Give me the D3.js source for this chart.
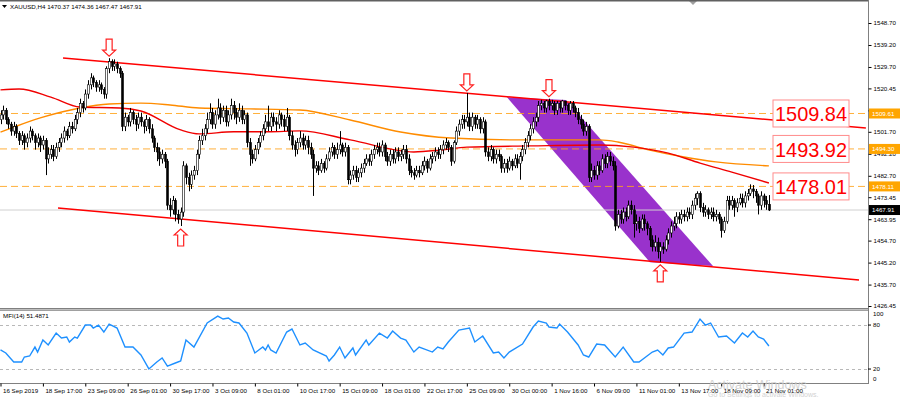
<!DOCTYPE html>
<html>
<head>
<meta charset="utf-8">
<script src="https://cdn.jsdelivr.net/npm/d3@7/dist/d3.min.js"></script>
<style>
    body { margin: 0; background: #ffffff; }
    svg text { font-family: "Liberation Sans", Arial, sans-serif; }
</style>
</head>
<body>
<div id="chart"></div>
<script>
// --- chart data ---

const symbolTitle = "XAUUSD,H4  1470.37 1474.36 1467.47 1467.91";
const firstOpen = 1507;

// H4 candles, one value per bar, 10 bars per row
const closes = [
    1509, 1511, 1507, 1505, 1502, 1504, 1501, 1498, 1500, 1497,
    1499, 1502, 1500, 1497, 1499, 1496, 1498, 1490, 1492, 1494,
    1491, 1495, 1497, 1499, 1502, 1500, 1504, 1503, 1507, 1510,
    1514, 1512, 1518, 1522, 1525, 1523, 1521, 1522, 1520, 1518,
    1529, 1532, 1530, 1531, 1529, 1527, 1504, 1508, 1506, 1510,
    1507, 1505, 1508, 1506, 1504, 1507, 1503, 1499, 1495, 1493,
    1490, 1492, 1489, 1470, 1468, 1472, 1466, 1464, 1467, 1487,
    1482, 1479, 1483, 1485, 1492, 1498, 1500, 1503, 1507, 1510,
    1505, 1509, 1512, 1508, 1511, 1506, 1509, 1513, 1510, 1508,
    1511, 1507, 1509, 1497, 1492, 1490, 1494, 1497, 1500, 1503,
    1506, 1504, 1508, 1506, 1505, 1509, 1507, 1504, 1508, 1500,
    1496, 1494, 1497, 1499, 1496, 1498, 1495, 1492, 1486, 1487,
    1485, 1488, 1486, 1490, 1493, 1495, 1492, 1494, 1496, 1493,
    1495, 1481, 1483, 1485, 1482, 1484, 1486, 1488, 1490, 1489,
    1492, 1494, 1495, 1493, 1496, 1491, 1489, 1492, 1490, 1493,
    1491, 1492, 1494, 1490, 1485, 1484, 1483, 1485, 1484, 1487,
    1489, 1486, 1490, 1491, 1493, 1492, 1494, 1496, 1497, 1495,
    1489, 1497, 1502, 1505, 1507, 1506, 1508, 1504, 1508, 1505,
    1507, 1503, 1506, 1493, 1491, 1494, 1490, 1492, 1491, 1486,
    1488, 1486, 1489, 1487, 1490, 1488, 1491, 1494, 1497, 1500,
    1503, 1506, 1508, 1513, 1514, 1512, 1515, 1513, 1514, 1511,
    1514, 1512, 1515, 1513, 1511, 1514, 1512, 1510, 1507, 1505,
    1502, 1504, 1482, 1485, 1483, 1487, 1485, 1490, 1488, 1491,
    1489, 1487, 1461, 1466, 1464, 1467, 1465, 1470, 1468, 1462,
    1463, 1460, 1464, 1462, 1460, 1455, 1452, 1454, 1450, 1452,
    1451, 1455, 1458, 1461, 1462, 1465, 1464, 1466, 1465, 1467,
    1466, 1470, 1473, 1475, 1469, 1467, 1468, 1466, 1467, 1465,
    1466, 1464, 1459, 1463, 1472, 1470, 1472, 1469, 1471, 1473,
    1471, 1474, 1475, 1477, 1476, 1474, 1470, 1474, 1472, 1470.37,
    1467.91
];

const highs = [
    1511, 1513, 1512, 1508, 1506, 1506, 1505, 1502, 1502, 1501,
    1501, 1504, 1503, 1501, 1501, 1500, 1500, 1499, 1495, 1496,
    1496, 1497, 1499, 1501, 1504, 1503, 1506, 1506, 1509, 1512,
    1516, 1515, 1520, 1524, 1527, 1526, 1524, 1524, 1523, 1521,
    1530, 1533.5, 1533, 1533, 1532, 1530, 1528, 1510, 1509, 1512,
    1511, 1509, 1510, 1510, 1507, 1509, 1508, 1505, 1500, 1497,
    1495, 1494, 1493, 1490, 1473, 1474, 1473, 1468, 1469, 1489,
    1488, 1484, 1485, 1487, 1494, 1500, 1503, 1505, 1510, 1514,
    1512, 1511, 1516, 1514, 1513, 1513, 1511, 1516, 1515, 1512,
    1514, 1513, 1511, 1510, 1499, 1494, 1496, 1499, 1502, 1505,
    1509, 1513, 1510, 1510, 1508, 1511, 1510, 1509, 1512, 1509,
    1502, 1498, 1499, 1502, 1501, 1500, 1500, 1497, 1494, 1489,
    1489, 1490, 1489, 1492, 1495, 1497, 1496, 1497, 1502, 1497,
    1497, 1496, 1485, 1487, 1487, 1486, 1488, 1490, 1492, 1492,
    1494, 1496, 1497, 1497, 1498, 1497, 1493, 1494, 1494, 1495,
    1495, 1494, 1496, 1496, 1492, 1487, 1486, 1487, 1487, 1489,
    1491, 1490, 1492, 1493, 1495, 1495, 1496, 1498, 1499, 1498,
    1496, 1498, 1504, 1507, 1509, 1509, 1518.5, 1510, 1510, 1509,
    1509, 1508, 1508, 1507, 1495, 1496, 1495, 1494, 1494, 1492,
    1490, 1490, 1491, 1490, 1492, 1492, 1493, 1496, 1499, 1502,
    1505, 1508, 1510, 1515, 1515.5, 1515, 1515.5, 1516, 1515.5, 1515,
    1515, 1515, 1515.5, 1515, 1514, 1515, 1515, 1513, 1512, 1509,
    1507, 1506, 1505, 1488, 1487, 1489, 1489, 1492, 1492, 1493,
    1493, 1491, 1489, 1468, 1468, 1469, 1469, 1472, 1472, 1470,
    1466, 1465, 1466, 1466, 1463, 1461, 1457, 1457, 1456, 1454,
    1454, 1457, 1460, 1463, 1465, 1467, 1467, 1468, 1468, 1469,
    1469, 1472, 1475, 1476, 1476, 1471, 1470, 1469, 1469, 1469,
    1468, 1467, 1465, 1465, 1474, 1474, 1474, 1473, 1473, 1475,
    1475, 1476, 1477, 1479, 1478.7, 1477, 1475, 1476, 1475, 1474,
    1474.36
];

const lows = [
    1505, 1507, 1505, 1503, 1500, 1500, 1499, 1496, 1496, 1494,
    1495, 1497, 1498, 1494, 1495, 1493, 1494, 1483, 1488, 1490,
    1489, 1490, 1493, 1495, 1497, 1498, 1499, 1501, 1502, 1505,
    1508, 1510, 1511, 1516, 1520, 1521, 1519, 1519, 1518, 1516,
    1516, 1527, 1528, 1528, 1527, 1525, 1502, 1502, 1504, 1504,
    1505, 1502, 1503, 1504, 1501, 1502, 1501, 1497, 1493, 1489,
    1487, 1488, 1486, 1468, 1465, 1466, 1463, 1462, 1461, 1465,
    1479, 1476, 1477, 1481, 1483, 1490, 1496, 1498, 1501, 1505,
    1503, 1503, 1507, 1505, 1506, 1504, 1504, 1507, 1507, 1505,
    1506, 1505, 1505, 1495, 1487, 1488, 1489, 1492, 1495, 1498,
    1501, 1502, 1502, 1504, 1502, 1503, 1504, 1502, 1502, 1498,
    1494, 1491, 1492, 1495, 1494, 1494, 1492, 1490, 1474, 1484,
    1483, 1484, 1484, 1485, 1489, 1491, 1490, 1490, 1492, 1491,
    1491, 1479, 1479, 1481, 1480, 1480, 1482, 1484, 1487, 1487,
    1487, 1490, 1492, 1491, 1491, 1489, 1487, 1487, 1488, 1488,
    1489, 1489, 1490, 1488, 1483, 1482, 1481, 1482, 1482, 1483,
    1485, 1484, 1485, 1488, 1489, 1490, 1490, 1492, 1494, 1493,
    1487, 1488, 1496, 1500, 1503, 1503, 1504, 1502, 1502, 1503,
    1503, 1501, 1501, 1491, 1489, 1489, 1488, 1488, 1489, 1484,
    1484, 1484, 1485, 1485, 1486, 1486, 1481, 1489, 1492, 1495,
    1498, 1501, 1504, 1506, 1511, 1510, 1510, 1511, 1511, 1509,
    1509, 1510, 1510, 1511, 1509, 1509, 1510, 1508, 1505, 1503,
    1500, 1500, 1480, 1480, 1481, 1481, 1483, 1484, 1486, 1486,
    1487, 1485, 1459, 1460, 1462, 1462, 1463, 1464, 1466, 1456,
    1459, 1458, 1459, 1459, 1457, 1452, 1450, 1450, 1447, 1445.5,
    1449, 1450, 1453, 1456, 1459, 1460, 1462, 1462, 1463, 1463,
    1464, 1464, 1468, 1470, 1467, 1465, 1465, 1464, 1464, 1463,
    1463, 1462, 1456, 1458, 1462, 1468, 1468, 1465, 1467, 1470,
    1469, 1469, 1472, 1474, 1473, 1471, 1466, 1468, 1469, 1468,
    1467.47
];

// moving averages, read at bar positions
const redMaBars = [0, 7, 19, 30, 45, 53, 68, 75, 88, 101, 113, 132, 156, 166, 176, 200, 226, 239, 252, 264, 276, 290];
const redMaVals = [1519.8, 1520.2, 1516.7, 1512.4, 1512.0, 1510.7, 1502.5, 1500.8, 1501.7, 1501.7, 1502.1, 1498.2, 1493.0, 1493.8, 1495.1, 1495.6, 1496.0, 1495.1, 1492.5, 1488.2, 1484.3, 1479.6];
const orangeMaBars = [0, 4, 15, 30, 41, 53, 64, 75, 94, 113, 132, 151, 170, 196, 226, 233, 245, 258, 270, 290];
const orangeMaVals = [1501.6, 1503.3, 1507.7, 1512.0, 1513.7, 1514.1, 1513.3, 1512.0, 1511.6, 1511.1, 1506.8, 1501.6, 1499.0, 1498.2, 1498.2, 1497.3, 1493.8, 1490.8, 1488.7, 1487.0];

// drawn objects: channel lines [bar, price] pairs
const upperTrend = [[23.6, 1533.6], [326.6, 1503.3]];
const lowerTrend = [[21.7, 1468.8], [324, 1437.7]];
const purpleChannel = [[191.1, 1516.7], [213.4, 1515.4], [268.9, 1443.7], [245.1, 1445.4]];

const arrowDownBars = [41, 176, 207];
const arrowUpBars = [68, 249];

// horizontal levels and their labels
const levelPrices = [1509.61, 1494.30, 1478.11];
const levelLabels = ["1509.84", "1493.92", "1478.01"];
const lastPrice = 1467.91;

// axes
const priceTicks = [1548.70, 1539.20, 1529.70, 1520.45, 1510.95, 1501.70, 1492.20, 1482.70, 1473.45, 1463.95, 1454.70, 1445.20, 1435.70, 1426.45];
const dateTickBars = [0, 16, 32, 48, 64, 80, 96, 112, 128, 144, 160, 176, 192, 208, 224, 240, 256, 272, 288];
const dateLabels = ["16 Sep 2019", "18 Sep 17:00", "23 Sep 09:00", "26 Sep 01:00", "30 Sep 17:00", "3 Oct 09:00", "8 Oct 01:00",
    "10 Oct 17:00", "15 Oct 09:00", "18 Oct 01:00", "22 Oct 17:00", "25 Oct 09:00", "30 Oct 00:00", "1 Nov 16:00",
    "6 Nov 09:00", "11 Nov 01:00", "13 Nov 17:00", "18 Nov 09:00", "21 Nov 01:00"];

// MFI(14)
const mfiLast = "51.4871";
const mfiBars = [0, 2, 5, 8, 9, 11, 13, 14, 16, 18, 21, 23, 25, 26, 28, 29, 32, 34, 35, 37, 39, 41, 44, 47, 50, 53, 56, 59, 61, 63,
    66, 68, 70, 73, 78, 82, 84, 86, 88, 90, 93, 96, 99, 100, 101, 102, 104, 108, 110, 113, 115, 118, 123, 124, 126, 128, 130,
    133, 134, 138, 139, 143, 146, 148, 151, 153, 156, 158, 163, 165, 167, 169, 173, 177, 179, 182, 186, 188, 190, 192, 197,
    201, 203, 206, 207, 210, 211, 214, 218, 220, 222, 225, 228, 232, 235, 239, 241, 246, 248, 250, 252, 254, 258, 261, 264,
    266, 268, 271, 274, 277, 280, 282, 284, 286, 288, 290];
const mfiVals = [46.0, 41.9, 29.6, 29.6, 36.4, 37.8, 50.0, 43.2, 59.6, 52.8, 69.1, 62.3, 63.7, 56.9, 63.7, 62.3, 80.0, 80.0, 75.9,
    80.0, 70.5, 81.4, 75.9, 50.0, 50.0, 39.2, 20.1, 29.6, 35.1, 24.1, 28.2, 31.0, 59.6, 50.0, 82.8, 92.3, 88.2, 89.6, 84.1,
    82.8, 69.1, 41.9, 50.0, 46.0, 52.8, 46.0, 41.9, 70.5, 74.6, 52.8, 55.5, 46.0, 37.8, 31.0, 39.2, 50.0, 35.1, 48.7, 39.2,
    59.6, 52.8, 69.1, 62.3, 71.9, 62.3, 59.6, 43.2, 50.0, 43.2, 50.0, 47.3, 56.9, 73.2, 75.9, 56.9, 65.0, 41.9, 43.2, 35.1,
    43.2, 54.1, 77.3, 85.5, 82.8, 77.3, 75.9, 81.4, 70.5, 52.8, 39.2, 36.4, 54.1, 52.8, 36.4, 50.0, 29.6, 29.6, 43.2, 46.0,
    39.2, 48.7, 50.0, 69.1, 70.5, 88.2, 80.0, 82.8, 63.7, 65.0, 55.5, 69.1, 63.7, 71.9, 63.7, 60.9, 51.5];
const mfiLevels = [80, 20];
const mfiAxisTicks = [100, 80, 20, 0];

(function () {

    // --- layout ---
    const W = 900, H = 398;
    const plotRight = 868;         // x of the price scale
    const mainTop = 1, mainBottom = 308;
    const mfiTop = 310, mfiBottom = 383;

    const svg = d3.select("#chart").append("svg")
        .attr("width", W).attr("height", H)
        .style("display", "block");

    // scales: bar index -> x, price -> y
    const x = d3.scaleLinear().domain([0, 327.4]).range([0.5, plotRight]);
    const y = d3.scaleLinear().domain([1426.45, 1548.70]).range([306, 23]);
    const yMfi = d3.scaleLinear().domain([0, 100]).range([383.7, 310.4]);

    svg.append("defs").append("clipPath").attr("id", "mainClip")
        .append("rect").attr("x", 0).attr("y", mainTop).attr("width", plotRight).attr("height", mainBottom - mainTop);
    svg.select("defs").append("clipPath").attr("id", "mfiClip")
        .append("rect").attr("x", 0).attr("y", mfiTop).attr("width", plotRight).attr("height", mfiBottom - mfiTop);

    const main = svg.append("g").attr("clip-path", "url(#mainClip)");

    // purple descending channel (background object)
    main.append("path")
        .attr("d", "M" + purpleChannel.map(p => [x(p[0]), y(p[1])].join(",")).join("L") + "Z")
        .attr("fill", "#9932cc");

    // horizontal dashed levels
    main.selectAll(".level")
        .data(levelPrices)
        .join("line")
        .attr("x1", 0).attr("x2", plotRight)
        .attr("y1", d => y(d)).attr("y2", d => y(d))
        .attr("stroke", "#ffa31a").attr("stroke-width", 1)
        .attr("stroke-dasharray", "7,4").attr("opacity", 0.85);

    // bid line
    main.append("line")
        .attr("x1", 0).attr("x2", plotRight)
        .attr("y1", y(lastPrice)).attr("y2", y(lastPrice))
        .attr("stroke", "#d0d0d0").attr("stroke-width", 1);

    // moving averages
    const maLine = d3.line().x(d => x(d[0])).y(d => y(d[1])).curve(d3.curveMonotoneX);
    main.append("path")
        .attr("d", maLine(orangeMaBars.map((b, i) => [b, orangeMaVals[i]])))
        .attr("fill", "none").attr("stroke", "#ff8c00").attr("stroke-width", 1.4);
    main.append("path")
        .attr("d", maLine(redMaBars.map((b, i) => [b, redMaVals[i]])))
        .attr("fill", "none").attr("stroke", "#f00000").attr("stroke-width", 1.4);

    // channel trend lines
    main.selectAll(".trend")
        .data([upperTrend, lowerTrend])
        .join("line")
        .attr("x1", d => x(d[0][0])).attr("y1", d => y(d[0][1]))
        .attr("x2", d => x(d[1][0])).attr("y2", d => y(d[1][1]))
        .attr("stroke", "#ff0000").attr("stroke-width", 1.5);

    // candles
    const bars = closes.map((c, i) => {
        const o = i ? closes[i - 1] : firstOpen;
        return { i, o, c, h: Math.max(highs[i], o, c), l: Math.min(lows[i], o, c) };
    });
    const candles = main.append("g");
    candles.selectAll("line")
        .data(bars)
        .join("line")
        .attr("x1", d => Math.round(x(d.i)) + 0.5).attr("x2", d => Math.round(x(d.i)) + 0.5)
        .attr("y1", d => y(d.h)).attr("y2", d => y(d.l))
        .attr("stroke", "#000").attr("stroke-width", 1);
    candles.selectAll("rect")
        .data(bars)
        .join("rect")
        .attr("x", d => Math.round(x(d.i)) - 0.5)
        .attr("width", 2)
        .attr("y", d => y(Math.max(d.o, d.c)))
        .attr("height", d => Math.max(1, Math.abs(y(d.o) - y(d.c))))
        .attr("fill", d => d.c >= d.o ? "#ffffff" : "#000000")
        .attr("stroke", "#000").attr("stroke-width", 0.6);

    // high / low arrows
    const downArrow = "M-3,-17L3,-17L3,-6L6.5,-6L0,0L-6.5,-6L-3,-6Z";
    const upArrow = "M-3,17L3,17L3,6L6.5,6L0,0L-6.5,6L-3,6Z";
    main.selectAll(".arrDown")
        .data(arrowDownBars)
        .join("path")
        .attr("d", downArrow)
        .attr("transform", d => `translate(${x(d)},${y(highs[d]) - 2})`)
        .attr("fill", "#fff").attr("stroke", "#ff2020").attr("stroke-width", 1.2);
    main.selectAll(".arrUp")
        .data(arrowUpBars)
        .join("path")
        .attr("d", upArrow)
        .attr("transform", d => `translate(${x(d)},${y(lows[d]) + 3})`)
        .attr("fill", "#fff").attr("stroke", "#ff2020").attr("stroke-width", 1.2);

    // boxed level labels
    const boxes = main.selectAll(".box")
        .data(levelLabels)
        .join("g")
        .attr("transform", (d, i) => `translate(773,${y(levelPrices[i])})`);
    boxes.append("rect")
        .attr("x", 0).attr("y", -13.5).attr("width", 76).attr("height", 27)
        .attr("fill", "#fff").attr("stroke", "#ff8c8c").attr("stroke-width", 1);
    boxes.append("text")
        .attr("x", 38).attr("y", 8)
        .attr("text-anchor", "middle")
        .attr("font-size", 21)
        .attr("textLength", 72).attr("lengthAdjust", "spacingAndGlyphs")
        .attr("fill", "#ff0000")
        .text(d => d);

    // chart shift marker
    svg.append("path").attr("d", "M689,1L697,1L693,5Z").attr("fill", "#a0a0a0");

    // title
    svg.append("path").attr("d", "M2,5L7,5L4.5,8Z").attr("fill", "#000");
    svg.append("text").attr("x", 10).attr("y", 9)
        .attr("font-size", 6.2).attr("fill", "#000").text(symbolTitle);

    // frames
    svg.append("line").attr("x1", 0).attr("x2", plotRight).attr("y1", 0.5).attr("y2", 0.5)
        .attr("stroke", "#606060").attr("stroke-width", 2);
    svg.append("rect").attr("x", -1).attr("y", mainBottom).attr("width", plotRight + 1).attr("height", 1.5)
        .attr("fill", "#808080");
    svg.append("rect").attr("x", -1).attr("y", mfiTop).attr("width", plotRight + 1).attr("height", 1)
        .attr("fill", "#a0a0a0");
    svg.append("line").attr("x1", 0).attr("x2", plotRight).attr("y1", mfiBottom + 0.5).attr("y2", mfiBottom + 0.5)
        .attr("stroke", "#808080");
    svg.append("line").attr("x1", plotRight + 0.5).attr("x2", plotRight + 0.5).attr("y1", 0).attr("y2", mfiBottom + 1)
        .attr("stroke", "#808080");

    // price axis
    const yAxis = svg.append("g")
        .attr("transform", `translate(${plotRight + 0.5},0)`)
        .call(d3.axisRight(y).tickValues(priceTicks).tickSize(3).tickPadding(2).tickFormat(d3.format(".2f")));
    yAxis.select(".domain").remove();
    yAxis.selectAll("text").attr("font-size", 6.2).attr("fill", "#000")
        .style("font-family", "'Liberation Sans', Arial, sans-serif");
    yAxis.selectAll("line").attr("stroke", "#000");

    // price tags on the axis
    const tags = levelPrices.map(p => ({ p, bg: "#ffa500", fg: "#ffffff" }))
        .concat([{ p: lastPrice, bg: "#000000", fg: "#ffffff" }]);
    const tagG = svg.selectAll(".tag")
        .data(tags)
        .join("g")
        .attr("transform", d => `translate(${plotRight + 1},${y(d.p)})`);
    tagG.append("rect").attr("x", 0).attr("y", -5).attr("width", 31).attr("height", 10)
        .attr("fill", d => d.bg);
    tagG.append("text").attr("x", 3).attr("y", 2.3)
        .attr("font-size", 6.2).attr("fill", d => d.fg)
        .text(d => d3.format(".2f")(d.p));

    // --- MFI subwindow ---
    const mfi = svg.append("g").attr("clip-path", "url(#mfiClip)");
    mfi.selectAll(".mfiLevel")
        .data(mfiLevels)
        .join("line")
        .attr("x1", 0).attr("x2", plotRight)
        .attr("y1", d => Math.round(yMfi(d)) + 0.5).attr("y2", d => Math.round(yMfi(d)) + 0.5)
        .attr("stroke", "#b8b8b8").attr("stroke-dasharray", "3,3");
    mfi.append("path")
        .attr("d", d3.line().x(d => x(d[0])).y(d => yMfi(d[1]))(mfiBars.map((b, i) => [b, mfiVals[i]])))
        .attr("fill", "none").attr("stroke", "#1e90ff").attr("stroke-width", 1.4);

    svg.append("text").attr("x", 3).attr("y", 318)
        .attr("font-size", 6.2).attr("fill", "#000")
        .text("MFI(14) " + mfiLast);

    svg.selectAll(".mfiTick")
        .data(mfiAxisTicks)
        .join("text")
        .attr("x", plotRight + 5)
        .attr("y", d => Math.min(Math.max(yMfi(d), 314), 379) + 2.3)
        .attr("font-size", 6.2).attr("fill", "#000")
        .text(d => d);
    svg.selectAll(".mfiTickMark")
        .data(mfiLevels)
        .join("line")
        .attr("x1", plotRight).attr("x2", plotRight + 3)
        .attr("y1", d => yMfi(d)).attr("y2", d => yMfi(d))
        .attr("stroke", "#000");

    // time axis
    const xAxis = svg.append("g")
        .attr("transform", `translate(0,${mfiBottom + 0.5})`)
        .call(d3.axisBottom(x).tickValues(dateTickBars).tickSize(3).tickFormat((d, i) => dateLabels[i]));
    xAxis.select(".domain").remove();
    xAxis.selectAll("line").attr("stroke", "#000");
    xAxis.selectAll("text")
        .attr("text-anchor", "start").attr("x", 2).attr("y", 5)
        .attr("font-size", 6.2).attr("fill", "#000")
        .style("font-family", "'Liberation Sans', Arial, sans-serif");

    // faint OS watermark in the corner
    svg.append("text").attr("x", 708).attr("y", 389)
        .attr("font-size", 12.5).attr("fill", "#c8c8c8").attr("opacity", 0.8).text("Activate Windows");
    svg.append("text").attr("x", 708).attr("y", 397)
        .attr("font-size", 7).attr("fill", "#c8c8c8").attr("opacity", 0.8).text("Go to Settings to activate Windows.");
})();
</script>
</body>
</html>
